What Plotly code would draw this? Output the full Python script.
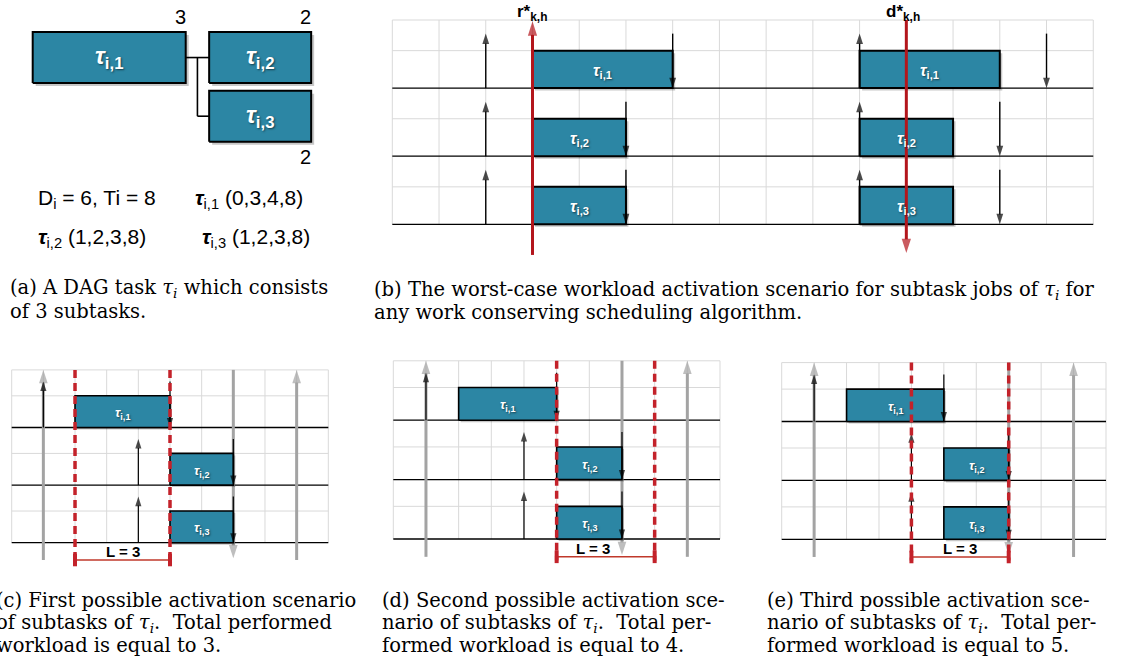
import plotly.graph_objects as go

W, H = 1123, 665

# ---- task model (panel a) ----
subtask_ids = ["i,1", "i,2", "i,3"]
sub_offset = [0, 1, 1]
sub_wcet = [3, 2, 2]
sub_deadline = [4, 3, 3]
sub_period = [8, 8, 8]
task_deadline = 6
task_period = 8

# ---- (b) worst case scenario, two jobs of each subtask ----
b_release = [[2, 2, 2], [10, 10, 10]]
b_start = [[3, 3, 3], [10, 10, 10]]
r_star = 3
d_star = 11
b_slots = 15

# ---- (c), (d), (e) one job of each subtask, window of length L ----
cde_release = [1, 4, 4]
cde_start = [2, 5, 5]
task_release = 1
window_len = 3
window_start = [2, 5, 4]
performed_workload = [3, 4, 5]
cde_slots = 10

TEAL = "#2c86a4"
GRID = "#d9d9d9"
RED = "#b3161c"
RED_DASH = "#c3222a"
GRAY = "#a3a3a3"
SANS = "Liberation Sans, Arial, sans-serif"
SERIF = "DejaVu Serif, serif"

# pixel geometry: where unit 0 sits, px per unit, and the box given to the axes
GEOM = {
    "a": dict(x0=32.7, sx=51.0, y0=141.7, sy=51.0, box=(0, 0, 355, 175)),
    "b": dict(x0=392.3, sx=46.73, y0=224.3, sy=68.1, box=(362, 0, 1123, 268)),
    "c": dict(x0=11.7, sx=31.66, y0=542.7, sy=57.6, box=(0, 352, 365, 580)),
    "d": dict(x0=393.3, sx=32.67, y0=539.0, sy=59.4, box=(370, 345, 745, 580)),
    "e": dict(x0=781.7, sx=32.43, y0=539.3, sy=58.9, box=(755, 345, 1123, 580)),
}
AX = {k: ("" if i == 0 else str(i + 1)) for i, k in enumerate("abcde")}
BAR_H = 0.55   # bar height as a fraction of a processor row
ARR_H = 0.8    # release / deadline arrow height

fig = go.Figure()
annotations = []


def trace(key, **kw):
    fig.add_trace(go.Scatter(xaxis="x" + AX[key], yaxis="y" + AX[key],
                             hoverinfo="skip", showlegend=False, **kw))


def lines(key, segs, color, width, dash=None):
    xs, ys = [], []
    for (x0, y0, x1, y1) in segs:
        xs += [x0, x1, None]
        ys += [y0, y1, None]
    trace(key, x=xs, y=ys, mode="lines", line=dict(color=color, width=width, dash=dash))


def arrow(key, x0, y0, x1, y1, color, width, head):
    trace(key, x=[x0, x1], y=[y0, y1], mode="lines+markers",
          line=dict(color=color, width=width),
          marker=dict(symbol="arrow", size=[0, head], angleref="previous",
                      color=color, line=dict(width=0)))


def rects(key, boxes, fill, edge, ew, shadow=2.5):
    g = GEOM[key]
    dx, dy = shadow / g["sx"], shadow / g["sy"]
    sxs, sys_, xs, ys = [], [], [], []
    for (x0, y0, x1, y1) in boxes:
        sxs += [x0 + dx, x1 + dx, x1 + dx, x0 + dx, x0 + dx, None]
        sys_ += [y0 - dy, y0 - dy, y1 - dy, y1 - dy, y0 - dy, None]
        xs += [x0, x1, x1, x0, x0, None]
        ys += [y0, y0, y1, y1, y0, None]
    trace(key, x=sxs, y=sys_, mode="lines", fill="toself", fillcolor="rgba(0,0,0,0.22)",
          line=dict(width=0))
    trace(key, x=xs, y=ys, mode="lines", fill="toself", fillcolor=fill,
          line=dict(color=edge, width=ew))


def label(key, x, y, text, size, color="white", xanchor="center", shadow=True):
    annotations.append(dict(
        x=x, y=y, xref="x" + AX[key], yref="y" + AX[key], text=text, showarrow=False,
        xanchor=xanchor, yanchor="middle",
        font=dict(family=SANS, size=size, color=color,
                  shadow="1px 1px 2px rgba(0,0,0,0.55)" if shadow else "none")))


def ptext(px, py, text, size, family, color="black"):
    annotations.append(dict(
        x=px / W, y=1 - py / H, xref="paper", yref="paper", text=text, showarrow=False,
        xanchor="left", yanchor="middle", font=dict(family=family, size=size, color=color)))


def tau(sub):
    return "<b><i>τ</i><sub>%s</sub></b>" % sub


def grid(key, slots):
    vert = [(x, 0, x, 3) for x in range(slots + 1)]
    horiz = [(0, 3, slots, 3)] + [(0, k + BAR_H, slots, k + BAR_H) for k in range(3)]
    lines(key, vert + horiz, GRID, 1)
    lines(key, [(0, k, slots, k) for k in range(3)], "black", 1.3)


# ================= (a) DAG =================
gap = 0.46
a_boxes = [(0, 1.15, sub_wcet[0], 2.15),
           (sub_wcet[0] + gap, 1.15, sub_wcet[0] + gap + sub_wcet[1], 2.15),
           (sub_wcet[0] + gap, 0, sub_wcet[0] + gap + sub_wcet[2], 1)]
mid = sub_wcet[0] + gap / 2
lines("a", [(sub_wcet[0], 1.65, a_boxes[1][0], 1.65), (mid, 1.65, mid, 0.5),
            (mid, 0.5, a_boxes[2][0], 0.5)], "black", 1.6)
rects("a", a_boxes, TEAL, "black", 2, shadow=3)
for k, (x0, y0, x1, y1) in enumerate(a_boxes):
    label("a", (x0 + x1) / 2, (y0 + y1) / 2, tau(subtask_ids[k]), 24)
    wy = y1 + 0.3 if k < 2 else y0 - 0.3
    label("a", x1 + 0.04, wy, str(sub_wcet[k]), 20, color="black",
          xanchor="right", shadow=False)

ptext(36, 199, "D<sub>i</sub> = %d, Ti = %d" % (task_deadline, task_period), 21, SANS)
param_pos = [(193, 199), (36, 238), (200, 238)]
for k, (px, py) in enumerate(param_pos):
    ptext(px, py, "<b><i>τ</i></b><sub>%s</sub> (%d,%d,%d,%d)" % (
        subtask_ids[k], sub_offset[k], sub_wcet[k], sub_deadline[k], sub_period[k]), 21, SANS)

# ================= (b) worst case =================
grid("b", b_slots)
b_bars = []
for job in range(2):
    for k in range(3):
        yb = 2 - k
        s = b_start[job][k]
        b_bars.append((s, yb, s + sub_wcet[k], yb + BAR_H))
rects("b", b_bars, TEAL, "black", 2)
for job in range(2):
    for k in range(3):
        yb = 2 - k
        rel = b_release[job][k]
        arrow("b", rel, yb, rel, yb + ARR_H, "black", 1.4, 11)
        dl = rel + sub_deadline[k]
        arrow("b", dl, yb + ARR_H, dl, yb, "black", 1.4, 11)
        s = b_start[job][k]
        label("b", s + sub_wcet[k] / 2, yb + 0.24, tau(subtask_ids[k]), 16)
arrow("b", r_star, -0.45, r_star, 2.98, RED, 3, 15)
arrow("b", d_star, 3.0, d_star, -0.42, RED, 3, 15)
label("b", r_star, 3.11, "<b>r*<sub>k,h</sub></b>", 17, color="black", shadow=False)
label("b", d_star - 0.07, 3.11, "<b>d*<sub>k,h</sub></b>", 17, color="black", shadow=False)

# ================= (c), (d), (e) =================
L_text_shift = [0.0, -0.4, 0.0]
for p, key in enumerate("cde"):
    grid(key, cde_slots)
    for rel in (task_release, task_release + task_period):
        arrow(key, rel, -0.3, rel, 3.0, GRAY, 3, 14)
    tdl = task_release + task_deadline
    arrow(key, tdl, 3.0, tdl, -0.27, GRAY, 3, 14)
    bars = []
    for k in range(3):
        yb = 2 - k
        s = cde_start[k]
        bars.append((s, yb, s + sub_wcet[k], yb + BAR_H))
    rects(key, bars, TEAL, "black", 1.6, shadow=2)
    for k in range(3):
        yb = 2 - k
        rel = cde_release[k]
        arrow(key, rel, yb, rel, yb + ARR_H, "black", 1.2, 10)
        dl = rel + sub_deadline[k]
        arrow(key, dl, yb + ARR_H, dl, yb, "black", 1.2, 10)
        label(key, cde_start[k] + sub_wcet[k] / 2, yb + 0.24, tau(subtask_ids[k]), 13)
    w0 = window_start[p]
    w1 = w0 + window_len
    lines(key, [(w0, 3.0, w0, -0.36), (w1, 3.0, w1, -0.36)], RED_DASH, 3.5, dash="8px,5px")
    trace(key, x=[w0, w1], y=[-0.3, -0.3], mode="lines+markers",
          line=dict(color="#c0392b", width=1.4),
          marker=dict(symbol="line-ns-open", size=9, color=RED_DASH, line=dict(width=4, color=RED_DASH)))
    label(key, w0 + window_len / 2 + L_text_shift[p], -0.16, "<b>L = %d</b>" % window_len, 15,
          color="black", shadow=False)

# ================= captions =================
ti = "<i>τ</i><sub><i>i</i></sub>"
captions = [
    (8, [288, 311], ["(a) A DAG task %s which consists" % ti, "of 3 subtasks."]),
    (372, [290, 313], ["(b) The worst-case workload activation scenario for subtask jobs of %s for" % ti,
                       "any work conserving scheduling algorithm."]),
    (-6, [600, 623, 645], ["(c) First possible activation scenario",
                           "of subtasks of %s.  Total performed" % ti,
                           "workload is equal to %d." % performed_workload[0]]),
    (380, [600, 623, 645], ["(d) Second possible activation sce-",
                            "nario of subtasks of %s.  Total per-" % ti,
                            "formed workload is equal to %d." % performed_workload[1]]),
    (765, [600, 623, 645], ["(e) Third possible activation sce-",
                            "nario of subtasks of %s.  Total per-" % ti,
                            "formed workload is equal to %d." % performed_workload[2]]),
]
for px, ys, texts in captions:
    for py, t in zip(ys, texts):
        ptext(px, py, t, 19.5, SERIF)

layout = dict(width=W, height=H, margin=dict(l=0, r=0, t=0, b=0),
              paper_bgcolor="white", plot_bgcolor="rgba(0,0,0,0)",
              annotations=annotations, showlegend=False)
for key in "abcde":
    g = GEOM[key]
    l, t, r, b = g["box"]
    n = AX[key]
    layout["xaxis" + n] = dict(domain=[l / W, r / W],
                               range=[(l - g["x0"]) / g["sx"], (r - g["x0"]) / g["sx"]],
                               visible=False, fixedrange=True, anchor="y" + n)
    layout["yaxis" + n] = dict(domain=[1 - b / H, 1 - t / H],
                               range=[(g["y0"] - b) / g["sy"], (g["y0"] - t) / g["sy"]],
                               visible=False, fixedrange=True, anchor="x" + n)
fig.update_layout(**layout)

fig.write_html("out.html", config={"displayModeBar": False},
               post_script="document.body.style.margin='0';document.body.style.overflow='hidden';")
